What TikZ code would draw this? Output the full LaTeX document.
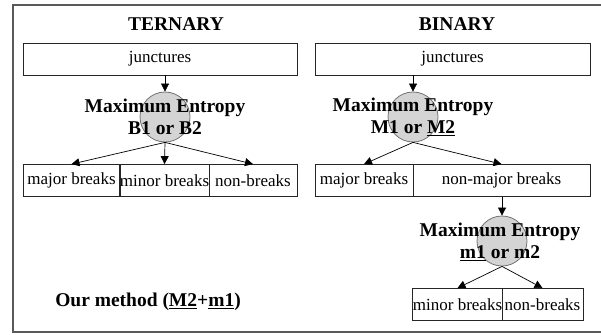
\documentclass[tikz,border=0pt]{standalone}
\usepackage{fontspec}
\setmainfont{Liberation Serif}
\usetikzlibrary{arrows.meta}

\begin{document}
\begin{tikzpicture}[x=1pt,y=-1pt]
	\tikzstyle{box}=[draw=black!85,line width=0.8pt,inner sep=0pt,minimum height=32pt,font=\fontsize{17}{19}\selectfont]
	\tikzstyle{maxent}=[circle,draw=black!55,line width=0.8pt,fill=black!17,minimum size=50pt,inner sep=0pt]
	\tikzstyle{bold}=[align=center,font=\fontsize{19.5}{22}\selectfont\bfseries]
	\tikzstyle{edge}=[draw,line width=0.7pt,-{Triangle[length=8pt,width=8pt]}]
	\useasboundingbox (0,0) rectangle (601,334);
	% frame
	\draw[black!65,line width=1.3pt] (601,5) -- (13,5) -- (13,332) -- (601,332);
	% ternary
	\begin{scope}
		\node [bold] (title1) at (176,24) {TERNARY};
		\node [box,minimum width=274pt] (junc1) at (160,59) {junctures};
		\node [maxent] (me1c) at (165,117) {};
		\node [bold] (me1) at (165,117) {Maximum Entropy\\B1 or B2};
		\node [box,minimum width=97pt] (maj1) at (71.5,180.5) {major breaks};
		\node [box,minimum width=89pt] (min1) at (164.5,180.5) {minor breaks};
		\node [box,minimum width=88pt] (non1) at (253,180.5) {non-breaks};
		\path[edge] (junc1.south -| me1c) -- (me1c.north);
		\path[edge] (me1c.south) -- (maj1.north);
		\path[edge] (me1c.south) -- (min1.north);
		\path[edge] (me1c.south) -- (non1.north);
	\end{scope}
	% binary
	\begin{scope}
		\node [bold] (title2) at (457,24) {BINARY};
		\node [box,minimum width=275pt] (junc2) at (452.5,59) {junctures};
		\node [maxent] (me2c) at (413,117) {};
		\node [bold] (me2) at (413,117) {Maximum Entropy\\M1 or \underline{M2}};
		\node [box,minimum width=98pt] (maj2) at (364,180.5) {major breaks};
		\node [box,minimum width=177pt] (nonmaj2) at (501.5,180.5) {non-major breaks};
		\node [maxent] (me3c) at (502,241) {};
		\node [bold] (me3) at (500,242) {Maximum Entropy\\\underline{m1} or m2};
		\node [box,minimum width=89pt] (min3) at (457.5,304.5) {minor breaks};
		\node [box,minimum width=81pt] (non3) at (542.5,304.5) {non-breaks};
		\path[edge] (junc2.south -| me2c) -- (me2c.north);
		\path[edge] (me2c.south) -- (maj2.north);
		\path[edge] (me2c.south) -- (nonmaj2.north);
		\path[edge] (nonmaj2.south -| me3c) -- (me3c.north);
		\path[edge] (me3c.south) -- (min3.north);
		\path[edge] (me3c.south) -- (non3.north);
	\end{scope}
	\node [bold] (method) at (148,302) {Our method (\underline{M2}+\underline{m1})};
\end{tikzpicture}
\end{document}
